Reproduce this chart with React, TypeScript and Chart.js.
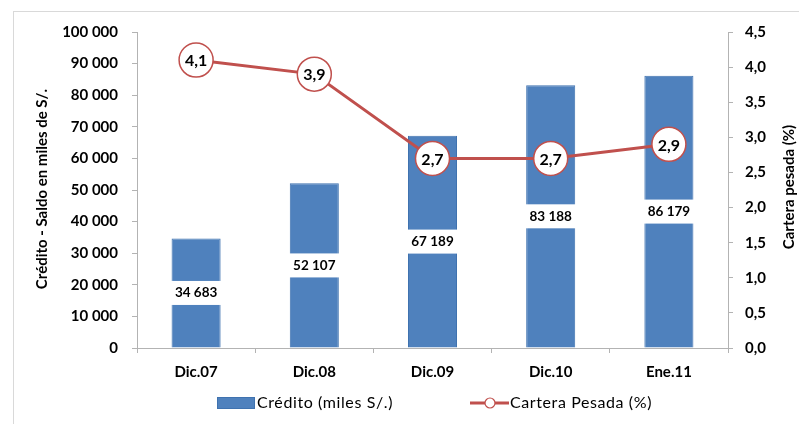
import React, { useEffect, useRef } from "react";
import { Chart, registerables } from "chart.js";

Chart.register(...registerables);

const categories = ["Dic.07", "Dic.08", "Dic.09", "Dic.10", "Ene.11"];
const creditoValues = [34683, 52107, 67189, 83188, 86179];
const carteraValues = [4.1, 3.9, 2.7, 2.7, 2.9];
const leftTitle = "Crédito - Saldo en miles de S/.";
const rightTitle = "Cartera pesada (%)";
const creditoLabel = "Crédito (miles S/.)";
const carteraLabel = "Cartera Pesada (%)";

const FONT = "Lato, 'DejaVu Sans', sans-serif";
const BLUE = "#4F81BD";
const RED = "#C0504D";
const AXIS = "#B3B3B3";

const fmtThousands = (v: number) =>
  String(Math.round(v)).replace(/\B(?=(\d{3})+(?!\d))/g, " ");
const fmtDec = (v: number) => v.toFixed(1).replace(".", ",");

const customPlugin = {
  id: "customDraw",
  beforeDraw(chart: any) {
    const ctx = chart.ctx;
    ctx.save();
    ctx.fillStyle = "#ffffff";
    ctx.fillRect(0, 0, chart.width, chart.height);
    ctx.strokeStyle = "#D9D9D9";
    ctx.lineWidth = 1;
    ctx.strokeRect(13.5, 11.5, 900, 500);
    ctx.restore();
  },
  afterDatasetsDraw(chart: any) {
    const ctx = chart.ctx;
    ctx.save();
    const barMeta = chart.getDatasetMeta(0);
    barMeta.data.forEach((el: any, i: number) => {
      const mid = (el.y + el.base) / 2;
      ctx.fillStyle = "#ffffff";
      ctx.fillRect(el.x - el.width / 2 - 1, mid - 12, el.width + 2, 24);
      ctx.fillStyle = "#000000";
      ctx.font = `bold 13.5px ${FONT}`;
      ctx.textAlign = "center";
      ctx.textBaseline = "middle";
      ctx.fillText(fmtThousands(creditoValues[i]), el.x, mid);
    });
    const lineMeta = chart.getDatasetMeta(1);
    lineMeta.data.forEach((el: any, i: number) => {
      ctx.fillStyle = "#000000";
      ctx.font = `bold 16px ${FONT}`;
      ctx.textAlign = "center";
      ctx.textBaseline = "middle";
      ctx.fillText(fmtDec(carteraValues[i]), el.x, el.y + 1);
    });
    ctx.restore();
  },
  afterDraw(chart: any) {
    const ctx = chart.ctx;
    ctx.save();
    ctx.fillStyle = "#000000";
    ctx.font = `bold 15px ${FONT}`;
    ctx.textAlign = "center";
    ctx.textBaseline = "middle";
    ctx.save();
    ctx.translate(42, 189);
    ctx.rotate(-Math.PI / 2);
    ctx.fillText(leftTitle, 0, 0);
    ctx.restore();
    ctx.save();
    ctx.translate(789, 187);
    ctx.rotate(-Math.PI / 2);
    ctx.fillText(rightTitle, 0, 0);
    ctx.restore();

    // legend
    const ly = 403;
    ctx.fillStyle = BLUE;
    ctx.fillRect(217, ly - 6, 38, 12);
    ctx.strokeStyle = "#3F72AF";
    ctx.lineWidth = 1;
    ctx.strokeRect(217.5, ly - 5.5, 37, 11);
    ctx.fillStyle = "#000000";
    ctx.font = `16px ${FONT}`;
    (ctx as any).letterSpacing = "0.6px";
    ctx.textAlign = "left";
    ctx.fillText(creditoLabel, 257, ly);

    ctx.strokeStyle = RED;
    ctx.lineWidth = 3;
    ctx.beginPath();
    ctx.moveTo(470, ly);
    ctx.lineTo(509, ly);
    ctx.stroke();
    ctx.beginPath();
    ctx.arc(490, ly, 5, 0, Math.PI * 2);
    ctx.fillStyle = "#ffffff";
    ctx.fill();
    ctx.lineWidth = 1.2;
    ctx.stroke();
    ctx.fillStyle = "#000000";
    ctx.fillText(carteraLabel, 510, ly);
    (ctx as any).letterSpacing = "0px";
    ctx.restore();
  },
};

export default function App() {
  const ref = useRef<HTMLCanvasElement | null>(null);
  useEffect(() => {
    if (!ref.current) return;
    const chart = new Chart(ref.current, {
      type: "bar",
      data: {
        labels: categories,
        datasets: [
          {
            type: "bar",
            label: creditoLabel,
            data: creditoValues,
            backgroundColor: BLUE,
            borderColor: "#3F72AF",
            borderWidth: 1,
            categoryPercentage: 1,
            barPercentage: 0.415,
            yAxisID: "y",
            order: 1,
          },
          {
            type: "line",
            label: carteraLabel,
            data: carteraValues,
            borderColor: RED,
            borderWidth: 3,
            pointRadius: 17,
            pointHoverRadius: 17,
            pointBackgroundColor: "#ffffff",
            pointBorderColor: RED,
            pointBorderWidth: 1.5,
            tension: 0,
            yAxisID: "y1",
            order: 0,
          } as any,
        ],
      },
      options: {
        responsive: false,
        animation: false,
        devicePixelRatio: 1,
        layout: { padding: { top: 32, bottom: 36, left: 0, right: 0 } },
        plugins: {
          legend: { display: false },
          tooltip: { enabled: false },
        },
        scales: {
          x: {
            afterFit: (s: any) => {
              s.height = 40;
            },
            grid: {
              display: true,
              drawOnChartArea: false,
              drawTicks: true,
              tickLength: 5,
              color: AXIS,
            },
            border: { color: AXIS, width: 1 },
            ticks: {
              color: "#000000",
              padding: 10,
              font: { family: FONT, size: 15, weight: "bold" },
            },
          },
          y: {
            position: "left",
            min: 0,
            max: 100000,
            afterFit: (s: any) => {
              s.width = 137;
            },
            grid: {
              display: true,
              drawOnChartArea: false,
              drawTicks: true,
              tickLength: 5,
              color: AXIS,
            },
            border: { color: AXIS, width: 1 },
            ticks: {
              stepSize: 10000,
              color: "#000000",
              padding: 14,
              font: { family: FONT, size: 15, weight: "bold" },
              callback: (v: any) => fmtThousands(Number(v)),
            },
          },
          y1: {
            position: "right",
            min: 0,
            max: 4.5,
            afterFit: (s: any) => {
              s.width = 71;
            },
            grid: {
              display: true,
              drawOnChartArea: false,
              drawTicks: true,
              tickLength: 5,
              color: AXIS,
            },
            border: { color: AXIS, width: 1 },
            ticks: {
              stepSize: 0.5,
              color: "#000000",
              padding: 12,
              font: { family: FONT, size: 15, weight: "bold" },
              callback: (v: any) => fmtDec(Number(v)),
            },
          },
        },
      },
      plugins: [customPlugin],
    });
    return () => chart.destroy();
  }, []);

  return (
    <div style={{ position: "fixed", left: 0, top: 0, width: 799, height: 424, background: "#fff" }}>
      <canvas ref={ref} width={799} height={424} style={{ display: "block", width: 799, height: 424 }} />
    </div>
  );
}
